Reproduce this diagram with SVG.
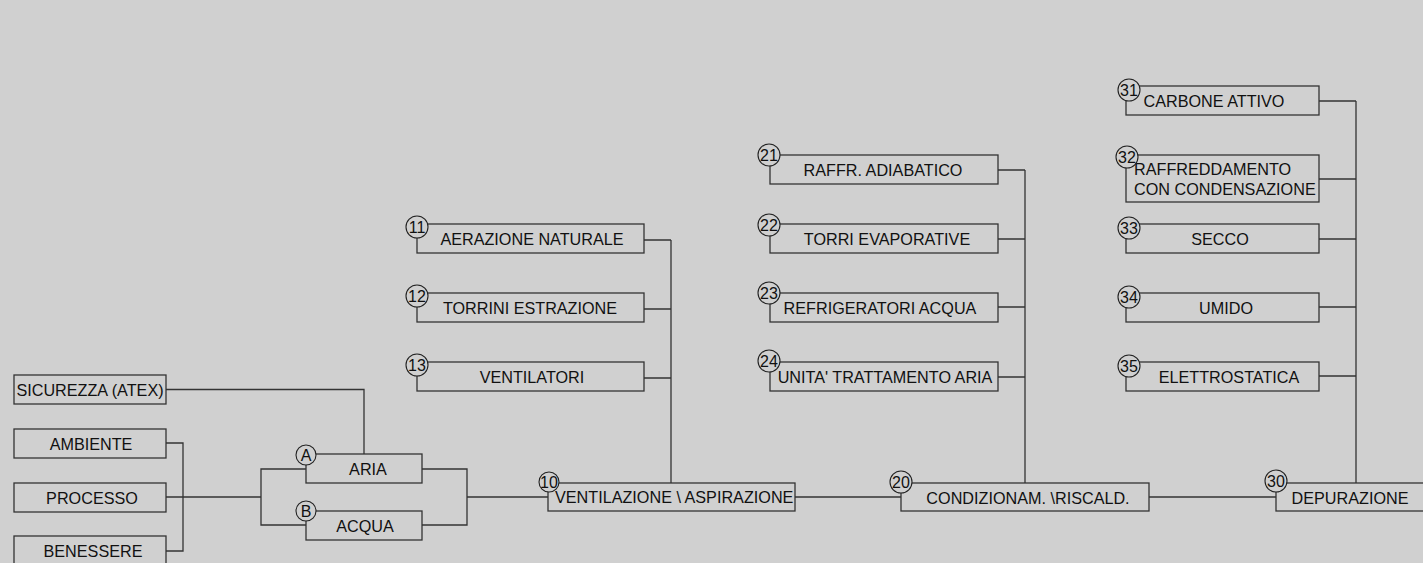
<svg xmlns="http://www.w3.org/2000/svg" width="1423" height="563" viewBox="0 0 1423 563">
<style>
.b{fill:none;stroke:#333;stroke-width:1.3}
.c{fill:#d0d0d0;stroke:#222;stroke-width:1.1}
.l{fill:none;stroke:#333;stroke-width:1.3}
text{font-family:"Liberation Sans",Arial,sans-serif;font-size:16.2px;fill:#111}
.m{text-anchor:middle}
.n{font-size:16px;text-anchor:middle}
</style>
<rect width="1423" height="563" fill="#d0d0d0"/>
<g id="connectors">
<path class="l" d="M166 389.5H364V454"/>
<path class="l" d="M166 443H183V551H166M166 497H261"/>
<path class="l" d="M306 469H261V525H306"/>
<path class="l" d="M422 469H467V525H422M467 497H548"/>
<path class="l" d="M644 240H671M644 309H671M644 378H671M671 240V483"/>
<path class="l" d="M795 497H901"/>
<path class="l" d="M998 170H1025M998 239H1025M998 307H1025M998 377H1025M1025 170V483"/>
<path class="l" d="M1149 497H1276"/>
<path class="l" d="M1319 101H1356M1319 179H1356M1319 239H1356M1319 307H1356M1319 376H1356M1356 101V483"/>
</g>
<g id="sicurezza"><rect class="b" x="14" y="375" width="152" height="29"/><text class="m" x="90" y="396">SICUREZZA (ATEX)</text></g>
<g id="ambiente"><rect class="b" x="14" y="429" width="152" height="29"/><text class="m" x="91" y="450">AMBIENTE</text></g>
<g id="processo"><rect class="b" x="14" y="483" width="152" height="29"/><text class="m" x="92" y="504">PROCESSO</text></g>
<g id="benessere"><rect class="b" x="14" y="536" width="152" height="29"/><text class="m" x="93" y="557">BENESSERE</text></g>
<g id="aria"><rect class="b" x="306" y="454" width="116" height="29"/><text class="m" x="368" y="475">ARIA</text><circle class="c" cx="306" cy="455" r="10"/><text class="n" x="306" y="461">A</text></g>
<g id="acqua"><rect class="b" x="306" y="511" width="116" height="29"/><text class="m" x="365" y="532">ACQUA</text><circle class="c" cx="306" cy="511" r="10"/><text class="n" x="306" y="517">B</text></g>
<g id="n11"><rect class="b" x="417" y="224" width="227" height="29"/><text class="m" x="532" y="245">AERAZIONE NATURALE</text><circle class="c" cx="417" cy="227" r="11"/><text class="n" x="417" y="233">11</text></g>
<g id="n12"><rect class="b" x="417" y="293" width="227" height="29"/><text class="m" x="530" y="314">TORRINI ESTRAZIONE</text><circle class="c" cx="417" cy="296" r="11"/><text class="n" x="417" y="302">12</text></g>
<g id="n13"><rect class="b" x="417" y="362" width="227" height="29"/><text class="m" x="532" y="383">VENTILATORI</text><circle class="c" cx="417" cy="365" r="11"/><text class="n" x="417" y="371">13</text></g>
<g id="n10"><rect class="b" x="548" y="483" width="247" height="28"/><text x="555" y="503">VENTILAZIONE \ ASPIRAZIONE</text><circle class="c" cx="549" cy="482" r="10"/><text class="n" x="549" y="488">10</text></g>
<g id="n21"><rect class="b" x="770" y="155" width="228" height="29"/><text class="m" x="883" y="176">RAFFR. ADIABATICO</text><circle class="c" cx="769" cy="155" r="11"/><text class="n" x="769" y="161">21</text></g>
<g id="n22"><rect class="b" x="770" y="224" width="228" height="29"/><text class="m" x="887" y="245">TORRI EVAPORATIVE</text><circle class="c" cx="769" cy="225" r="11"/><text class="n" x="769" y="231">22</text></g>
<g id="n23"><rect class="b" x="770" y="293" width="228" height="29"/><text class="m" x="880" y="314">REFRIGERATORI ACQUA</text><circle class="c" cx="769" cy="293" r="11"/><text class="n" x="769" y="299">23</text></g>
<g id="n24"><rect class="b" x="770" y="362" width="228" height="29"/><text class="m" x="885" y="383">UNITA' TRATTAMENTO ARIA</text><circle class="c" cx="769" cy="361" r="11"/><text class="n" x="769" y="367">24</text></g>
<g id="n20"><rect class="b" x="901" y="483" width="248" height="28"/><text class="m" x="1028" y="504">CONDIZIONAM. \RISCALD.</text><circle class="c" cx="901" cy="482" r="11"/><text class="n" x="901" y="488">20</text></g>
<g id="n31"><rect class="b" x="1126" y="86" width="193" height="29"/><text class="m" x="1214" y="107">CARBONE ATTIVO</text><circle class="c" cx="1129" cy="90" r="11"/><text class="n" x="1129" y="96">31</text></g>
<g id="n32"><rect class="b" x="1126" y="155" width="193" height="47"/><text x="1134" y="175">RAFFREDDAMENTO</text><text x="1134" y="195">CON CONDENSAZIONE</text><circle class="c" cx="1127" cy="157" r="11"/><text class="n" x="1127" y="163">32</text></g>
<g id="n33"><rect class="b" x="1126" y="224" width="193" height="29"/><text class="m" x="1220" y="245">SECCO</text><circle class="c" cx="1129" cy="228" r="11"/><text class="n" x="1129" y="234">33</text></g>
<g id="n34"><rect class="b" x="1126" y="293" width="193" height="29"/><text class="m" x="1226" y="314">UMIDO</text><circle class="c" cx="1129" cy="297" r="11"/><text class="n" x="1129" y="303">34</text></g>
<g id="n35"><rect class="b" x="1126" y="362" width="193" height="29"/><text class="m" x="1229" y="383">ELETTROSTATICA</text><circle class="c" cx="1129" cy="366" r="11"/><text class="n" x="1129" y="372">35</text></g>
<g id="n30"><rect class="b" x="1276" y="483" width="160" height="28"/><text class="m" x="1350" y="504">DEPURAZIONE</text><circle class="c" cx="1276" cy="481" r="11"/><text class="n" x="1276" y="487">30</text></g>
</svg>
